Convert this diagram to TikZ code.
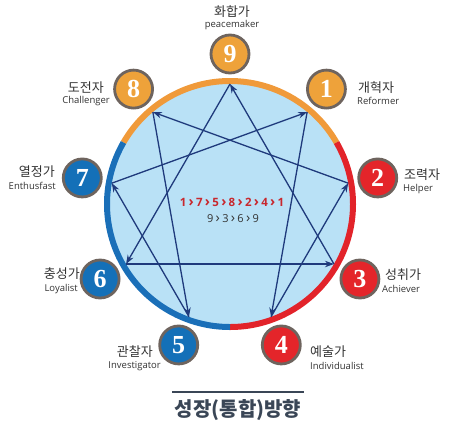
\documentclass[tikz,border=0pt]{standalone}
\usepackage{fontspec}
\setmainfont{Liberation Serif}
\newfontfamily\kr{Noto Sans CJK KR}
\newfontfamily\en{Open Sans}
\usetikzlibrary{arrows.meta,calc}
\definecolor{ringor}{HTML}{F09A3A}
\definecolor{ringred}{HTML}{E2232A}
\definecolor{ringblue}{HTML}{1A6FB8}
\definecolor{inner}{HTML}{B9E1F6}
\definecolor{navy}{HTML}{1F3A7C}
\definecolor{bor}{HTML}{EEA23A}
\definecolor{bred}{HTML}{E4252A}
\definecolor{bblue}{HTML}{1470B8}
\definecolor{bedge}{HTML}{6E645E}
\definecolor{txt}{HTML}{333333}
\definecolor{seqred}{HTML}{C8282E}
\definecolor{titlec}{HTML}{3A4656}
\newcommand\chev{\kern2.3pt{\fontsize{14}{14}\selectfont›}\kern2.3pt}
\begin{document}
\begin{tikzpicture}[x=1pt,y=-1pt,
  badge/.style={circle,draw=bedge,line width=2.8pt,minimum size=38pt,inner sep=0pt,
     text=white,font=\bfseries\fontsize{26}{26}\selectfont},
  krl/.style={font=\kr\fontsize{13}{13}\selectfont,text=txt,inner sep=0pt},
  enl/.style={font=\en\fontsize{9.5}{9.5}\selectfont,text=txt,inner sep=0pt},
  ringseg/.style={line width=6pt,line cap=butt},
  eline/.style={draw=navy,line width=1.3pt,-{Stealth[length=9pt,width=6.5pt]}}
]
\useasboundingbox (0,0) rectangle (454,431);
\coordinate (C) at (230,204);
\fill[inner] (C) circle[radius=123];
\draw[ringseg,ringor] ($(C)+(-30:123)$) arc[start angle=-30,end angle=-150,radius=123];
\draw[ringseg,ringred] ($(C)+(90:123)$) arc[start angle=90,end angle=-30,radius=123];
\draw[ringseg,ringblue] ($(C)+(90:123)$) arc[start angle=90,end angle=210,radius=123];
% enneagram points
\foreach \k in {1,...,9}{
  \coordinate (p\k) at ($(C)+({40*\k-90}:120)$);
}
% lines
\draw[eline] (p9) -- (p6);
\draw[eline] (p6) -- (p3);
\draw[eline] (p3) -- (p9);
\draw[eline] (p1) -- (p4);
\draw[eline] (p4) -- (p2);
\draw[eline] (p2) -- (p8);
\draw[eline] (p8) -- (p5);
\draw[eline] (p5) -- (p7);
\draw[eline] (p7) -- (p1);
% badges
\node[badge,fill=bor]  (b9) at ($(C)+(270:150)$) {9};
\node[badge,fill=bor]  (b1) at ($(C)+(-50:150)$) {1};
\node[badge,fill=bor]  (b8) at ($(C)+(230:150)$) {8};
\node[badge,fill=bred] (b2) at ($(C)+(-10:150)$) {2};
\node[badge,fill=bred] (b3) at ($(C)+(30:150)$) {3};
\node[badge,fill=bred] (b4) at ($(C)+(70:150)$) {4};
\node[badge,fill=bblue] (b5) at ($(C)+(110:150)$) {5};
\node[badge,fill=bblue] (b6) at ($(C)+(150:150)$) {6};
\node[badge,fill=bblue] (b7) at ($(C)+(190:150)$) {7};
% labels
\node[krl] (k9) at (232,12) {화합가};
\node[enl] (e9) at (232,25) {peacemaker};
\node[krl,anchor=east] (k8) at (104,88) {도전자};
\node[enl,anchor=east] (e8) at (110,101) {Challenger};
\node[krl,anchor=west] (k1) at (358,88) {개혁자};
\node[enl,anchor=west] (e1) at (357,101) {Reformer};
\node[krl,anchor=east] (k7) at (55,172) {열정가};
\node[enl,anchor=east] (e7) at (56,186) {Enthusfast};
\node[krl,anchor=west] (k2) at (404,175) {조력자};
\node[enl,anchor=west] (e2) at (403,189) {Helper};
\node[krl,anchor=east] (k6) at (80,274) {충성가};
\node[enl,anchor=east] (e6) at (78,289) {Loyalist};
\node[krl,anchor=west] (k3) at (385,275) {성취가};
\node[enl,anchor=west] (e3) at (382,289) {Achiever};
\node[krl,anchor=east] (k5) at (153,352) {관찰자};
\node[enl,anchor=east] (e5) at (161,366) {Investigator};
\node[krl,anchor=west] (k4) at (310,352) {예술가};
\node[enl,anchor=west] (e4) at (310,366) {Individualist};
% sequences
\node[font=\en\bfseries\fontsize{11.5}{11.5}\selectfont,text=seqred,inner sep=0pt] (s1) at (232,202) {1\chev7\chev5\chev8\chev2\chev4\chev1};
\node[font=\en\fontsize{11}{11}\selectfont,text=txt,inner sep=0pt] (s2) at (233,219) {9\chev3\chev6\chev9};
% title
\coordinate (tl) at (172,392);
\coordinate (tr) at (304,392);
\draw[titlec,line width=1.6pt] (tl) -- (tr);
\node[font=\kr\bfseries\fontsize{20}{20}\selectfont,text=titlec,inner sep=0pt] (title) at (238,410) {성장(통합)방향};
\end{tikzpicture}
\end{document}
